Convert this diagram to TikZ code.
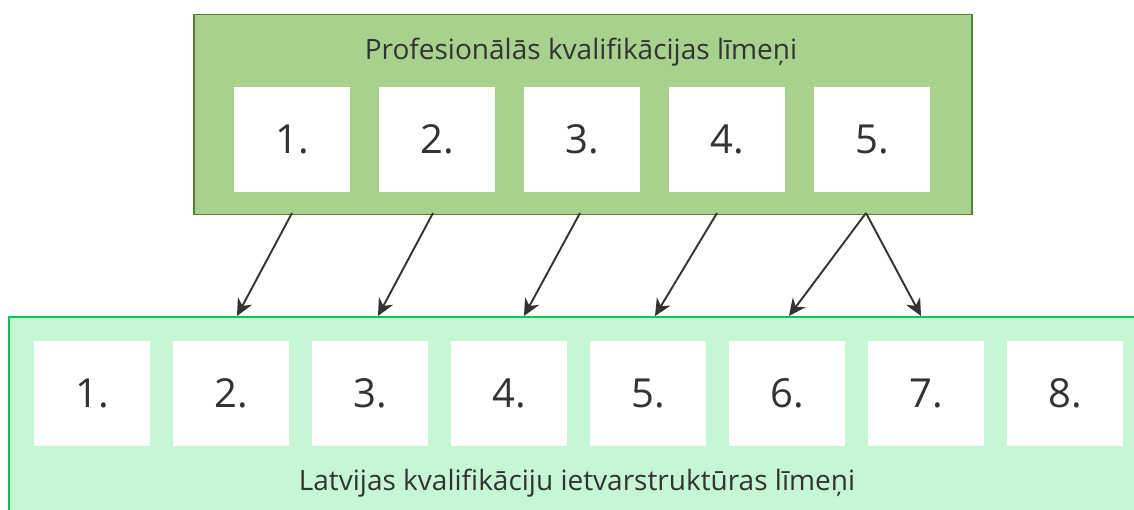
\documentclass[tikz,border=0pt]{standalone}
\usepackage{fontspec}
\setmainfont{Open Sans}
\usetikzlibrary{arrows.meta}
\definecolor{topfill}{HTML}{A9D18E}
\definecolor{topline}{HTML}{548235}
\definecolor{botfill}{HTML}{C6F7D4}
\definecolor{botline}{HTML}{00C853}
\definecolor{txt}{HTML}{333333}
\tikzset{
  x=1pt,y=-1pt,
  lvl/.style={fill=white,draw=none,minimum width=116pt,minimum height=105pt,inner sep=0pt,text=txt,font=\fontsize{40}{40}\selectfont},
  ttl/.style={text=txt,font=\fontsize{28}{28}\selectfont,inner sep=0pt},
  conn/.style={draw=txt,line width=1.9pt,-{Stealth[length=17pt,width=16pt]}},
}
\begin{document}
\begin{tikzpicture}
\useasboundingbox (0,0) rectangle (1134,509);
\node[draw=topline,fill=topfill,line width=1.5pt,minimum width=778pt,minimum height=200pt,anchor=north west,inner sep=0pt] (top) at (193,13.5) {};
\node[ttl] (toptitle) at (581,52) {Profesionālās kvalifikācijas līmeņi};
\foreach \i in {1,...,5}{
  \node[lvl,anchor=north west] (p\i) at ({234+145*(\i-1)},87) {\i.};
}
\begin{scope}
\clip (0,0) rectangle (1134,509);
\node[draw=botline,fill=botfill,line width=1.5pt,minimum width=1140pt,minimum height=220pt,anchor=north west,inner sep=0pt] (bot) at (8,316) {};
\end{scope}
\foreach \i in {1,...,8}{
  \node[lvl,anchor=north west] (l\i) at ({34+139*(\i-1)},341) {\i.};
}
\node[ttl] (bottitle) at (577,483) {Latvijas kvalifikāciju ietvarstruktūras līmeņi};
\coordinate (s1) at (292,213);
\coordinate (s2) at (433,213);
\coordinate (s3) at (580,213);
\coordinate (s4) at (717,213);
\coordinate (s5) at (866,213);
\coordinate (e1) at (237,316);
\coordinate (e2) at (378,316);
\coordinate (e3) at (524,316);
\coordinate (e4) at (655,316);
\coordinate (e5) at (789,316);
\coordinate (e6) at (921,316);
\draw[conn] (s1) -- (e1);
\draw[conn] (s2) -- (e2);
\draw[conn] (s3) -- (e3);
\draw[conn] (s4) -- (e4);
\draw[conn] (s5) -- (e5);
\draw[conn] (s5) -- (e6);
\end{tikzpicture}
\end{document}
